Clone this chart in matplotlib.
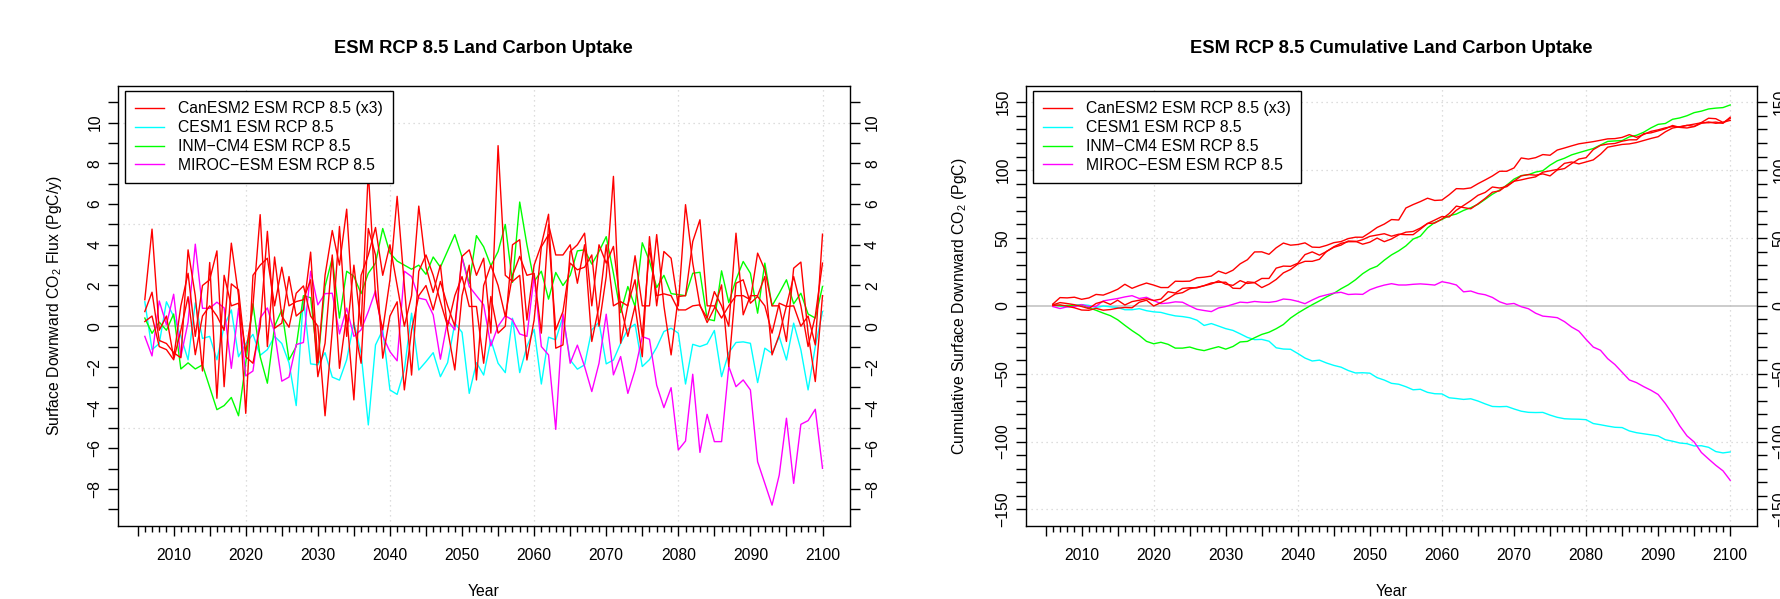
"""ESM RCP 8.5 land carbon uptake: annual flux and cumulative sum, two panels."""

import numpy as np
import matplotlib
matplotlib.use('Agg')
import matplotlib.pyplot as plt
from matplotlib.ticker import FixedLocator, FuncFormatter

plt.rcParams['font.family'] = ['Liberation Sans', 'DejaVu Sans']
plt.rcParams['mathtext.default'] = 'regular'

YEARS = np.arange(2006, 2101)

# Surface downward CO2 flux, PgC/y (rows: 2006-2020, then one row per decade)
CANESM2_R1 = [1.3, 4.77, -0.2, 0.5, -1.55, 1.0, 2.6, -0.5, 2.0, 2.28, 3.7, -2.97, 2.08, 1.79, -1.5,
              -1.82, 0.0, 4.66, -0.1, 0.15, 2.44, 0.5, 0.8, 3.64, -1.8,
              2.5, 4.7, 3.0, 5.75, 0.07, -1.82, 4.8, 3.5, -1.57, 0.5,
              1.2, -3.13, -0.2, 1.5, 2.0, 0.8, 2.2, 1.0, 0.0, 3.43,
              3.75, 2.5, 3.34, -0.34, 8.87, 2.5, 2.2, 2.5, -1.66, 0.31,
              3.9, 4.5, -0.18, 0.72, 3.1, 2.77, 2.9, 3.5, 0.0, 2.44,
              7.36, -0.84, 1.05, 2.28, -0.5, 3.84, 1.5, 1.59, 1.5, 0.8,
              0.8, 1.0, 1.05, 0.18, 0.89, 2.03, -1.98, 2.11, 2.28, 1.13,
              1.46, 1.0, -0.34, 1.13, 0.97, 1.0, 0.0, 0.5, -0.92, 4.52]
CANESM2_R2 = [0.72, 1.67, -0.7, -0.85, -1.3, -1.55, 3.75, 1.5, -2.2, 3.13, -3.54, 2.5, 1.0, 1.13, -1.3,
              1.0, 5.48, -1.0, 3.4, 0.5, -0.05, 1.62, 1.98, 0.5, 0.0,
              -4.4, -0.2, 4.9, -0.5, 3.0, 0.0, 7.6, 1.5, -0.18, 2.28,
              6.38, 2.0, -2.4, 2.7, 3.5, 2.5, 1.2, 0.0, 1.5, 2.44,
              0.97, 0.97, -1.82, 1.46, -0.34, 0.0, 4.0, 4.25, 0.3, 3.0,
              4.0, 5.5, -1.08, -0.92, 3.67, 4.0, 4.57, 1.0, 4.0, 3.1,
              3.92, 1.0, -0.5, 1.0, -1.5, 4.4, 1.0, 3.67, 3.34, 1.0,
              5.97, 3.1, 1.0, 0.4, 1.7, 1.0, 0.0, 4.57, 0.56, 1.5,
              1.5, 2.44, -1.41, -0.43, 1.0, 2.44, 1.0, -1.0, 0.5, 3.1]
CANESM2_R3 = [0.23, 0.5, -1.0, -1.15, -1.65, -0.2, 1.45, -1.4, 0.5, 1.0, 0.5, -0.2, 4.08, 1.5, -4.28,
              2.5, 3.0, 3.34, 1.0, 2.9, 1.0, 1.21, 1.3, 2.28, -2.48,
              -0.84, 3.5, -2.07, 0.56, -3.62, 2.5, 3.5, 4.85, 2.5, 4.0,
              2.0, 0.0, 1.5, 5.9, 2.9, 1.66, 3.0, -0.18, -2.15, 1.5,
              3.0, -2.64, 2.0, 3.0, 2.0, 0.48, 2.5, 3.43, 2.5, 2.6,
              -0.34, 5.0, 3.5, 3.5, 4.0, 2.11, 4.0, -0.75, 1.0, 4.0,
              1.0, 1.21, 1.0, 3.46, 1.0, 1.0, 4.5, 1.0, -1.41, 1.46,
              1.5, 4.16, 5.23, 1.0, 1.0, 0.4, 1.0, 1.5, 1.5, 1.3,
              3.59, 2.77, 1.0, 1.0, -0.75, 2.85, 3.15, -0.34, -2.72, 1.5]
CESM1 = [1.2, -1.15, -0.85, 1.2, 0.48, -0.5, -1.65, 1.15, -0.6, -0.5, -1.65, 0.0, 0.8, -1.5, -0.85,
         -0.4, -1.43, -1.15, -0.5, -0.85, -1.8, -3.9, 1.4, -1.85, -1.9,
         -1.3, -2.5, -2.65, -1.65, 0.18, -1.33, -4.85, -0.92, -0.18, -3.13,
         -3.35, -2.15, 0.64, -2.15, -1.74, -1.3, -2.48, -1.79, 0.15, -0.3,
         -3.3, -1.79, -2.4, -0.67, -1.82, -2.28, 0.39, -2.28, -1.0, -0.15,
         -2.84, -0.54, -0.67, 0.48, -1.66, -2.11, -1.9, -0.18, 0.2, -1.85,
         -1.66, -0.84, -0.15, 0.1, -1.98, -1.64, -1.04, -0.26, -0.1, -0.34,
         -2.84, -0.89, -1.0, -0.87, -0.21, -2.48, -1.3, -0.8, -0.77, -0.84,
         -2.77, -1.08, -1.33, -0.51, -1.66, 0.15, -1.16, -3.13, -1.0, 0.72]
INM_CM4 = [0.4, -0.35, 0.2, -0.2, 0.6, -2.1, -1.8, -2.1, -1.9, -3.0, -4.1, -3.9, -3.5, -4.4, -1.8,
           1.1, -1.5, -2.8, 0.0, 0.8, -1.65, -1.0, 1.5, 1.4, -1.8,
           1.95, 3.35, 0.4, 2.7, 2.45, 1.6, 2.6, 3.1, 4.8, 3.6,
           3.2, 3.0, 2.8, 3.0, 2.55, 3.4, 2.9, 3.7, 4.5, 3.4,
           2.1, 4.45, 3.9, 2.97, 3.67, 5.0, 2.15, 6.1, 4.0, 2.2,
           2.7, 1.33, 2.64, 2.0, 2.5, 3.7, 3.75, 3.05, 3.67, 4.4,
           2.6, 0.67, 1.95, 0.97, 4.1, 3.2, 1.9, 2.5, 1.6, 1.55,
           1.5, 2.6, 2.65, 0.35, 0.27, 2.72, 1.16, 2.28, 3.18, 2.6,
           0.64, 3.1, 1.0, 1.62, 2.28, 1.1, 1.62, 0.6, 0.4, 1.95]
MIROC_ESM = [-0.5, -1.46, 1.24, 0.07, 1.57, -1.5, 0.2, 4.03, 0.88, 0.88, 1.18, 0.9, -2.07, 0.88, -2.44,
             -2.2, 0.4, 0.9, -0.3, -2.7, -2.5, -0.9, -0.8, 2.7, 1.05,
             1.6, 1.62, -0.38, 0.89, -0.5, -0.18, 0.72, 1.75, -0.48, -1.25,
             -1.7, 2.7, 2.44, 1.38, 1.3, 0.56, -1.62, 0.28, -0.18, 3.38,
             1.95, 1.5, 1.05, -0.97, 0.0, 0.51, 0.31, -0.38, -0.5, 2.49,
             -1.0, -1.41, -5.07, 0.61, -1.82, -0.93, -1.98, -3.21, -1.82, 0.59,
             -2.39, -1.49, -3.3, -2.15, -0.51, -0.64, -2.9, -4.0, -3.02, -6.08,
             -5.64, -2.36, -6.2, -4.33, -5.67, -5.67, -1.98, -2.97, -2.64, -3.13,
             -6.66, -7.72, -8.79, -7.31, -4.52, -7.72, -4.82, -4.64, -4.08, -6.98]

LEGEND_LABELS = ['CanESM2 ESM RCP 8.5 (x3)', 'CESM1 ESM RCP 8.5',
                 'INM\u2212CM4 ESM RCP 8.5', 'MIROC\u2212ESM ESM RCP 8.5']
COLORS = ['#FF0000', '#00FFFF', '#00FF00', '#FF00FF']

# draw order: single-run models first, the three CanESM2 runs on top
SERIES = [(CESM1, COLORS[1]), (INM_CM4, COLORS[2]), (MIROC_ESM, COLORS[3]),
          (CANESM2_R1, COLORS[0]), (CANESM2_R2, COLORS[0]), (CANESM2_R3, COLORS[0])]

FS = 11.3


def style_axes(ax, ylim, yminor, ymajor, grid_y):
    ax.set_xlim(2002.24, 2103.76)
    ax.set_ylim(*ylim)

    for x in (2020, 2040, 2060, 2080, 2100):
        ax.axvline(x, color='#D3D3D3', lw=0.9, ls=(0, (1, 3)), zorder=0)
    for y in grid_y:
        ax.axhline(y, color='#D3D3D3', lw=0.9, ls=(0, (1, 3)), zorder=0)
    ax.axhline(0, color='#BEBEBE', lw=1.1, zorder=1)

    # x: every year, longer every 5, labels every 10
    ax.xaxis.set_major_locator(FixedLocator(np.arange(2005, 2101, 5)))
    ax.xaxis.set_minor_locator(FixedLocator(np.arange(2005, 2101, 1)))
    ax.xaxis.set_major_formatter(FuncFormatter(
        lambda v, p: f'{int(round(v))}' if int(round(v)) % 10 == 0 else ''))
    ax.tick_params(axis='x', which='major', length=7, width=1, labelsize=FS, pad=9)
    ax.tick_params(axis='x', which='minor', length=4, width=1)

    ax.yaxis.set_major_locator(FixedLocator(ymajor))
    ax.yaxis.set_minor_locator(FixedLocator(yminor))
    ax.tick_params(axis='y', which='both', left=True, right=True,
                   labelleft=True, labelright=True, length=7, width=1)
    ax.tick_params(axis='y', which='major', labelsize=FS, labelrotation=90, pad=4)
    for lab in ax.get_yticklabels():
        lab.set_va('center')

    for s in ax.spines.values():
        s.set_linewidth(1.0)
        s.set_color('black')

    handles = [plt.Line2D([], [], color=c, lw=1.0) for c in COLORS]
    leg = ax.legend(handles, LEGEND_LABELS, loc='upper left', bbox_to_anchor=(0.0101, 0.9886),
                    borderaxespad=0, frameon=True, fancybox=False, edgecolor='black',
                    fontsize=FS, handlelength=1.85, handletextpad=0.9, borderpad=0.65,
                    labelspacing=0.25, framealpha=1)
    leg.get_frame().set_linewidth(1.0)


fig = plt.figure(figsize=(17.81, 5.99), dpi=100)
ax1 = fig.add_axes([0.06609, 0.12237, 0.41095, 0.73406])
ax2 = fig.add_axes([0.57591, 0.12237, 0.41078, 0.73406])

for vals, col in SERIES:
    ax1.plot(YEARS, vals, color=col, lw=1.0, zorder=3)
    ax2.plot(YEARS, np.cumsum(vals), color=col, lw=1.0, zorder=3)

style_axes(ax1, (-9.8, 11.8), np.arange(-9, 12), np.arange(-8, 11, 2), (-5, 5, 10))
style_axes(ax2, (-162, 162), np.arange(-150, 151, 10), np.arange(-150, 151, 50),
           (-150, -100, -50, 50, 100, 150))

ax1.text(0.5, 1.0864, 'ESM RCP 8.5 Land Carbon Uptake', transform=ax1.transAxes,
         ha='center', va='center', fontsize=13.2, fontweight='bold')
ax2.text(0.5, 1.0864, 'ESM RCP 8.5 Cumulative Land Carbon Uptake', transform=ax2.transAxes,
         ha='center', va='center', fontsize=13.2, fontweight='bold')

for ax in (ax1, ax2):
    ax.set_xlabel('Year', fontsize=FS, va='center')
    ax.xaxis.set_label_coords(0.5, -0.150)

ax1.set_ylabel('Surface Downward CO$_2$ Flux (PgC/y)', fontsize=FS, va='center')
ax1.yaxis.set_label_coords(-0.0864, 0.5)
ax2.set_ylabel('Cumulative Surface Downward CO$_2$ (PgC)', fontsize=FS, va='center')
ax2.yaxis.set_label_coords(-0.0898, 0.5)

fig.savefig('out.png', dpi=100, facecolor='white')
plt.close(fig)
